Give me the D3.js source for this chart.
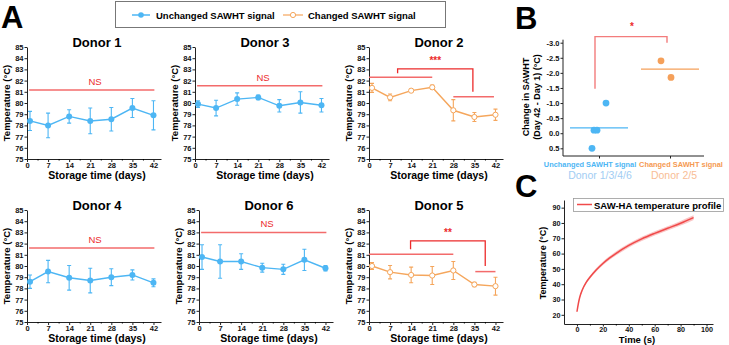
<!DOCTYPE html>
<html>
<head>
<meta charset="utf-8">
<script src="https://cdn.jsdelivr.net/npm/d3@7"></script>
<style>
body{margin:0;background:#fff;}
svg{display:block;font-family:"Liberation Sans",Arial,sans-serif;}
</style>
</head>
<body>
<svg id="chart" width="729" height="345"></svg>
<script>
// ---- data ----
var days = [1, 7, 14, 21, 28, 35, 42];
var dayTicks = [0, 7, 14, 21, 28, 35, 42];

var donor1 = [78.4, 78.0, 78.8, 78.4, 78.55, 79.55, 78.9];
var donor1Err = [0.85, 1.1, 0.6, 1.15, 1.05, 0.85, 1.3];
var donor3 = [79.9, 79.55, 80.35, 80.5, 79.75, 80.05, 79.8];
var donor3Err = [0.3, 0.7, 0.55, 0.2, 0.55, 0.95, 0.6];
var donor2 = [81.35, 80.5, 81.1, 81.4, 79.35, 78.75, 78.95];
var donor2Err = [0.4, 0.3, 0.15, 0.2, 0.95, 0.4, 0.5];
var donor4 = [78.6, 79.5, 78.95, 78.7, 79.0, 79.2, 78.5];
var donor4Err = [0.6, 1.0, 1.1, 1.1, 0.75, 0.45, 0.35];
var donor6 = [80.8, 80.4, 80.4, 79.85, 79.7, 80.55, 79.8];
var donor6Err = [1.1, 1.5, 0.7, 0.4, 0.45, 0.95, 0.25];
var donor5 = [80.0, 79.45, 79.2, 79.15, 79.6, 78.35, 78.2];
var donor5Err = [0.3, 0.6, 0.7, 0.8, 0.8, 0.2, 0.8];

// significance annotations: NS level, or group lines [from, to, level] + bracket [xLeft, xRight, yLeft, yTop, yRight]
var nsLevels = [81.15, 81.55, null, 81.6, 83.0, null];
var donor2Groups = [[0, 21, 82.3], [28, 41.5, 80.55]];
var donor2Bracket = [9.5, 34.5, 82.65, 83.05, 81.0];
var donor5Groups = [[0, 28, 81.05], [35.3, 42, 79.5]];
var donor5Bracket = [13.8, 38.6, 81.5, 82.25, 80.0];

// panel B
var groupNames = ["Unchanged SAWHT signal", "Changed SAWHT signal"];
var groupDonors = ["Donor 1/3/4/6", "Donor 2/5"];
var unchangedDelta = [0.5, -0.1, -0.1, -1.0];
var unchangedJitter = [-7, -5, -2, 7];
var changedDelta = [-2.4, -1.85];
var changedJitter = [-9, 1];
var bTicks = [-3.0, -2.5, -2.0, -1.5, -1.0, -0.5, 0.0, 0.5];

// panel C
var heatTime = [0, 1, 2, 4, 7, 10, 15, 20, 25, 30, 40, 50, 60, 70, 80, 90];
var heatTemp = [22, 27, 31, 36, 41, 44.5, 49.4, 53.5, 57, 60, 65.3, 69.6, 73.2, 76.5, 79.8, 83.5];
var heatSd = [0.4, 0.6, 0.7, 0.8, 0.9, 1.0, 1.1, 1.2, 1.2, 1.3, 1.3, 1.4, 1.4, 1.4, 1.5, 1.5];

var BLUE = "#4db6f4", ORANGE = "#f5a65c", RED = "#ec2b2b", PINK = "#f36b6b";

var svg = d3.select("#chart");

// panel letters
svg.append("text").attr("x", 1).attr("y", 28).attr("font-size", 31).attr("font-weight", "bold").text("A");
svg.append("text").attr("x", 515).attr("y", 29).attr("font-size", 31).attr("font-weight", "bold").text("B");
svg.append("text").attr("x", 515).attr("y", 197).attr("font-size", 31).attr("font-weight", "bold").text("C");

// legend of panel A
var leg = svg.append("g");
leg.append("rect").attr("x", 115.5).attr("y", 1.5).attr("width", 330).attr("height", 26)
    .attr("fill", "#fff").attr("stroke", "#777").attr("stroke-width", 1);
leg.append("line").attr("x1", 132).attr("x2", 150).attr("y1", 15).attr("y2", 15).attr("stroke", BLUE).attr("stroke-width", 1.5);
leg.append("circle").attr("cx", 141).attr("cy", 15).attr("r", 2.8).attr("fill", BLUE);
leg.append("text").attr("x", 156).attr("y", 18.5).attr("font-size", 9.5).attr("font-weight", "bold").text("Unchanged SAWHT signal");
leg.append("line").attr("x1", 283).attr("x2", 303).attr("y1", 15).attr("y2", 15).attr("stroke", ORANGE).attr("stroke-width", 1.2);
leg.append("circle").attr("cx", 293).attr("cy", 15).attr("r", 2.6).attr("fill", "#fff").attr("stroke", ORANGE).attr("stroke-width", 1);
leg.append("text").attr("x", 308).attr("y", 18.5).attr("font-size", 9.5).attr("font-weight", "bold").text("Changed SAWHT signal");

var panels = [
  {name: "Donor 1", vals: donor1, errs: donor1Err, changed: false, x0: 27, top: 47, bot: 159, ns: nsLevels[0]},
  {name: "Donor 3", vals: donor3, errs: donor3Err, changed: false, x0: 195, top: 47, bot: 159, ns: nsLevels[1]},
  {name: "Donor 2", vals: donor2, errs: donor2Err, changed: true, x0: 369, top: 47, bot: 159, groups: donor2Groups, bracket: donor2Bracket, stars: "***"},
  {name: "Donor 4", vals: donor4, errs: donor4Err, changed: false, x0: 27, top: 210, bot: 322, ns: nsLevels[3]},
  {name: "Donor 6", vals: donor6, errs: donor6Err, changed: false, x0: 199, top: 210, bot: 322, ns: nsLevels[4]},
  {name: "Donor 5", vals: donor5, errs: donor5Err, changed: true, x0: 369, top: 210, bot: 322, groups: donor5Groups, bracket: donor5Bracket, stars: "**"}
];

panels.forEach(function(p) {
  var g = svg.append("g");
  var x = d3.scaleLinear().domain([0, 44.5]).range([p.x0, p.x0 + 134]);
  var y = d3.scaleLinear().domain([75, 85]).range([p.bot, p.top]);
  var col = p.changed ? ORANGE : BLUE;

  // axes
  var ya = g.append("g").attr("transform", "translate(" + p.x0 + ",0)")
      .call(d3.axisLeft(y).tickValues(d3.range(75, 86)).tickSize(2.5).tickSizeOuter(0).tickPadding(1));
  var xa = g.append("g").attr("transform", "translate(0," + p.bot + ")")
      .call(d3.axisBottom(x).tickValues(dayTicks).tickSize(3).tickSizeOuter(0).tickPadding(1));
  g.append("g").attr("transform", "translate(0," + p.bot + ")")
      .call(d3.axisBottom(x).tickValues(d3.range(3.5, 44, 7)).tickSize(1.5).tickFormat(""))
      .select(".domain").remove();
  [ya, xa].forEach(function(a) {
    a.selectAll("text").attr("font-size", 7.5).attr("font-weight", "bold").attr("fill", "#111")
      .style("font-family", "'Liberation Sans',Arial,sans-serif");
    a.selectAll("line,path").attr("stroke", "#222");
  });

  g.append("text").attr("x", p.x0 + 70).attr("y", p.top - 0.5).attr("text-anchor", "middle")
    .attr("font-size", 13).attr("font-weight", "bold").text(p.name);
  g.append("text").attr("transform", "translate(" + (p.x0 - 17) + "," + ((p.top + p.bot) / 2) + ")rotate(-90)")
    .attr("text-anchor", "middle").attr("font-size", 9.5).attr("font-weight", "bold").text("Temperature (°C)");
  g.append("text").attr("x", p.x0 + 70).attr("y", p.bot + 20).attr("text-anchor", "middle")
    .attr("font-size", 10.5).attr("font-weight", "bold").text("Storage time (days)");

  // significance
  if (p.ns != null) {
    g.append("line").attr("x1", x(0.7)).attr("x2", x(42.3)).attr("y1", y(p.ns)).attr("y2", y(p.ns))
      .attr("stroke", PINK).attr("stroke-width", 1.5);
    g.append("text").attr("x", p.x0 + 68).attr("y", y(p.ns) - 5).attr("text-anchor", "middle")
      .attr("font-size", 9.5).attr("fill", RED).text("NS");
  } else {
    p.groups.forEach(function(gr) {
      g.append("line").attr("x1", x(gr[0])).attr("x2", x(gr[1])).attr("y1", y(gr[2])).attr("y2", y(gr[2]))
        .attr("stroke", PINK).attr("stroke-width", 1.5);
    });
    var b = p.bracket;
    g.append("path").attr("fill", "none").attr("stroke", RED).attr("stroke-width", 1.3)
      .attr("d", "M" + x(b[0]) + "," + y(b[2]) + "V" + y(b[3]) + "H" + x(b[1]) + "V" + y(b[4]));
    g.append("text").attr("x", (x(b[0]) + x(b[1])) / 2).attr("y", y(b[3]) - 5).attr("text-anchor", "middle")
      .attr("font-size", 10).attr("font-weight", "bold").attr("fill", RED).text(p.stars);
  }

  // series
  var pts = days.map(function(d, i) { return {d: d, v: p.vals[i], e: p.errs[i]}; });
  g.selectAll(".eb").data(pts).enter().append("path")
    .attr("fill", "none").attr("stroke", col).attr("stroke-width", 1.1)
    .attr("d", function(d) {
      var cx = x(d.d), t = y(d.v + d.e), bo = y(d.v - d.e);
      return "M" + (cx - 2) + "," + t + "H" + (cx + 2) + "M" + cx + "," + t + "V" + bo + "M" + (cx - 2) + "," + bo + "H" + (cx + 2);
    });
  g.append("path").datum(pts).attr("fill", "none").attr("stroke", col).attr("stroke-width", 1.4)
    .attr("d", d3.line().x(function(d) { return x(d.d); }).y(function(d) { return y(d.v); }));
  g.selectAll(".pt").data(pts).enter().append("circle")
    .attr("cx", function(d) { return x(d.d); }).attr("cy", function(d) { return y(d.v); })
    .attr("r", p.changed ? 2.6 : 3)
    .attr("fill", p.changed ? "#fff" : col).attr("stroke", col).attr("stroke-width", p.changed ? 1 : 0);
});

// ---- panel B ----
var gb = svg.append("g");
var bx = d3.scalePoint().domain(groupNames).range([599, 670]);
var by = d3.scaleLinear().domain([-3.0, 0.5]).range([42.7, 148.3]);
var fmt = function(v) { return d3.format(".1f")(v).replace("−", "-"); };
var bya = gb.append("g").attr("transform", "translate(563,0)")
  .call(d3.axisLeft(by).tickValues(bTicks).tickFormat(fmt).tickSize(2.5).tickSizeOuter(0).tickPadding(1));
bya.select(".domain").attr("d", "M0," + by(-3.1) + "V" + 156);
var bxa = gb.append("g").attr("transform", "translate(0,156)")
  .call(d3.axisBottom(bx).tickSize(2.5).tickSizeOuter(0).tickFormat(""));
bxa.select(".domain").attr("d", "M563,0H704");
[bya, bxa].forEach(function(a) {
  a.selectAll("text").attr("font-size", 7.5).attr("font-weight", "bold").attr("fill", "#111")
    .style("font-family", "'Liberation Sans',Arial,sans-serif");
  a.selectAll("line,path").attr("stroke", "#222");
});
gb.append("text").attr("transform", "translate(529,97)rotate(-90)").attr("text-anchor", "middle")
  .attr("font-size", 9).attr("font-weight", "bold")
  .selectAll("tspan").data(["Change in SAWHT", "(Day 42 - Day 1) (°C)"]).enter().append("tspan")
  .attr("x", 0).attr("dy", function(d, i) { return i ? 10.5 : 0; }).text(function(d) { return d; });

var catCols = [BLUE, "#f59a52"];
var donorCols = ["#a2cdf3", "#f8bd95"];
var labelShift = [-9, 11];
groupNames.forEach(function(n, i) {
  gb.append("text").attr("x", bx(n) + labelShift[i]).attr("y", 166.5).attr("text-anchor", "middle")
    .attr("font-size", 7.4).attr("font-weight", "bold").attr("fill", catCols[i]).text(n);
  gb.append("text").attr("x", bx(n) + [1, 4][i]).attr("y", 179).attr("text-anchor", "middle")
    .attr("font-size", 10.5).attr("fill", donorCols[i]).text(groupDonors[i]);
});

var groups = [
  {vals: unchangedDelta, jit: unchangedJitter, col: BLUE},
  {vals: changedDelta, jit: changedJitter, col: "#f5a05a"}
];
groups.forEach(function(gr, i) {
  var cx = bx(groupNames[i]);
  gb.append("line").attr("x1", cx - 29).attr("x2", cx + 29)
    .attr("y1", by(d3.mean(gr.vals))).attr("y2", by(d3.mean(gr.vals)))
    .attr("stroke", gr.col).attr("stroke-width", 1.3);
  gb.selectAll(null).data(gr.vals).enter().append("circle")
    .attr("cx", function(d, j) { return cx + gr.jit[j]; })
    .attr("cy", function(d) { return by(d); })
    .attr("r", 3.4).attr("fill", gr.col);
});
gb.append("path").attr("fill", "none").attr("stroke", "#f37c7c").attr("stroke-width", 1.4)
  .attr("d", "M" + (bx(groupNames[0]) - 4) + "," + by(-1.47) + "V" + by(-3.2) + "H" + (bx(groupNames[1]) - 3) + "V" + by(-3.0));
gb.append("text").attr("x", 632).attr("y", 30).attr("text-anchor", "middle")
  .attr("font-size", 10).attr("font-weight", "bold").attr("fill", RED).text("*");

// ---- panel C ----
var gc = svg.append("g");
var cxs = d3.scaleLinear().domain([-10, 105]).range([564, 713]);
var cys = d3.scaleLinear().domain([14, 95]).range([324, 200]);
var cya = gc.append("g").attr("transform", "translate(564,0)")
  .call(d3.axisLeft(cys).tickValues(d3.range(20, 91, 10)).tickSize(2.5).tickSizeOuter(0).tickPadding(1));
var cxa = gc.append("g").attr("transform", "translate(0,324)")
  .call(d3.axisBottom(cxs).tickValues(d3.range(0, 101, 20)).tickSize(2.5).tickSizeOuter(0).tickPadding(0.5));
gc.append("g").attr("transform", "translate(0,324)")
  .call(d3.axisBottom(cxs).tickValues(d3.range(10, 101, 20)).tickSize(1.5).tickFormat(""))
  .select(".domain").remove();
[cya, cxa].forEach(function(a) {
  a.selectAll("text").attr("font-size", 7.2).attr("font-weight", "bold").attr("fill", "#111")
    .style("font-family", "'Liberation Sans',Arial,sans-serif");
  a.selectAll("line,path").attr("stroke", "#222");
});
gc.append("text").attr("transform", "translate(546,263)rotate(-90)").attr("text-anchor", "middle")
  .attr("font-size", 9).attr("font-weight", "bold").text("Temperature (°C)");
gc.append("text").attr("x", 637).attr("y", 342.5).attr("text-anchor", "middle")
  .attr("font-size", 9.5).attr("font-weight", "bold").text("Time (s)");

var heat = heatTime.map(function(t, i) { return {t: t, v: heatTemp[i], s: heatSd[i]}; });
gc.append("path").datum(heat).attr("fill", "rgba(240,90,90,0.35)")
  .attr("d", d3.area().curve(d3.curveMonotoneX).x(function(d) { return cxs(d.t); })
    .y0(function(d) { return cys(d.v - d.s); }).y1(function(d) { return cys(d.v + d.s); }));
gc.append("path").datum(heat).attr("fill", "none").attr("stroke", "#f04a4a").attr("stroke-width", 1.5)
  .attr("d", d3.line().curve(d3.curveMonotoneX).x(function(d) { return cxs(d.t); }).y(function(d) { return cys(d.v); }));

gc.append("rect").attr("x", 573.5).attr("y", 198.5).attr("width", 150).attr("height", 13)
  .attr("fill", "#fff").attr("stroke", "#999").attr("stroke-width", 0.8);
gc.append("line").attr("x1", 577).attr("x2", 592).attr("y1", 204.5).attr("y2", 204.5)
  .attr("stroke", "#f04a4a").attr("stroke-width", 1.5);
gc.append("text").attr("x", 594).attr("y", 208.5).attr("font-size", 9.5).attr("font-weight", "bold")
  .text("SAW-HA temperature profile");
</script>
</body>
</html>
